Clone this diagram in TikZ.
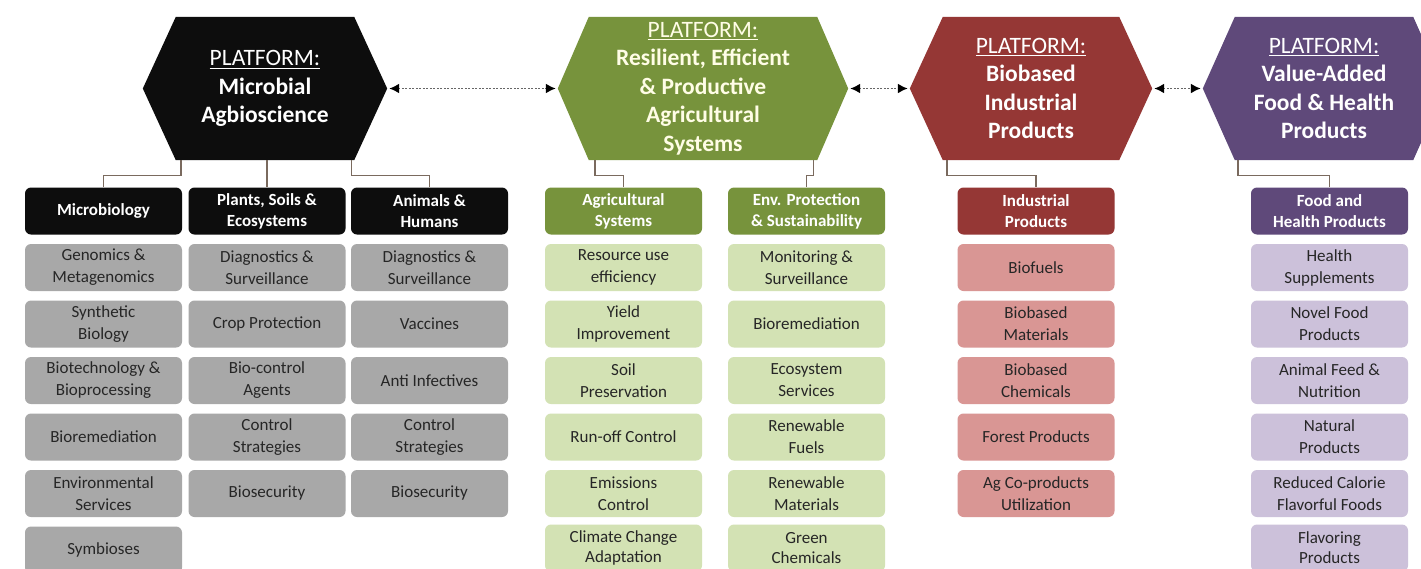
\documentclass[tikz,border=0pt]{standalone}
\usepackage{fontspec}
\setmainfont{Carlito}
\usetikzlibrary{arrows.meta,backgrounds}
\definecolor{blk}{HTML}{0D0D0D}
\definecolor{grn}{HTML}{77933C}
\definecolor{redd}{HTML}{953735}
\definecolor{pur}{HTML}{5F497A}
\definecolor{gryitem}{HTML}{A8A8A8}
\definecolor{grnitem}{HTML}{D3E2B4}
\definecolor{reditem}{HTML}{D99694}
\definecolor{puritem}{HTML}{CCC1DA}
\definecolor{connc}{HTML}{7A6A5E}
\definecolor{itemtxt}{HTML}{262626}
\definecolor{cream}{HTML}{FFFDE6}
\newcommand\platf{\setbox0\hbox{PLATFORM:}\rlap{\rule[-3.2pt]{\wd0}{1.1pt}}\box0}
\newcommand\hexfill[3]{\fill[#3] (#1.west) -- ([xshift=#2]#1.north west) -- ([xshift=-#2]#1.north east) -- (#1.east) -- ([xshift=-#2]#1.south east) -- ([xshift=#2]#1.south west) -- cycle;}
\tikzset{
 hex/.style={minimum width=#1, minimum height=143pt, inner sep=0pt, align=center, text=white, font=\fontsize{23.5}{28.5}\selectfont},
 cat/.style={rounded corners=6pt, minimum width=157pt, minimum height=47pt, inner sep=0pt, align=center, text=white, font=\fontsize{17}{21}\selectfont\bfseries, fill=#1},
 item/.style={rounded corners=6pt, minimum width=157pt, minimum height=47pt, inner sep=0pt, align=center, text=itemtxt, font=\fontsize{17}{22}\selectfont, fill=#1},
 lastitem/.style={item=#1, text height=11pt},
 conn/.style={draw=connc, line width=1.4pt},
 link/.style={draw=black!60, line width=1.8pt, dash pattern=on 2pt off 1.5pt, {Latex[length=10pt,width=10pt,black]}-{Latex[length=10pt,width=10pt,black]}, shorten <=2pt, shorten >=2pt}
}
\begin{document}
\begin{tikzpicture}[x=1pt,y=-1pt]
\useasboundingbox (0,0) rectangle (1421,568);
\clip (0,0) rectangle (1421,568);
% hexagons
\node[hex=244pt] (hA) at (265,88.5) {\platf\\\textbf{Microbial}\\\textbf{Agbioscience}};
\node[hex=290pt, text=cream] (hB) at (703,88.5) {\platf\\\textbf{Resilient, Efficient}\\\textbf{\& Productive}\\\textbf{Agricultural}\\\textbf{Systems}};
\node[hex=242pt] (hC) at (1031,88.5) {\platf\\\textbf{Biobased}\\\textbf{Industrial}\\\textbf{Products}};
\node[hex=242pt] (hD) at (1324,88.5) {\platf\\\textbf{Value-Added}\\\textbf{Food \& Health}\\\textbf{Products}};
\begin{scope}[on background layer]
\fill[white] (0,0) rectangle (1421,568);
\hexfill{hA}{33pt}{blk}
\hexfill{hB}{31pt}{grn}
\hexfill{hC}{33pt}{redd}
\hexfill{hD}{32pt}{pur}
\end{scope}
% links
\draw[link] (hA.east) -- (hB.west);
\draw[link] (hB.east) -- (hC.west);
\draw[link] (hC.east) -- (hD.west);
% categories
\node[cat=blk] (c1) at (103.5,211) {Microbiology};
\node[cat=blk] (c2) at (267,211) {Plants, Soils \&\\Ecosystems};
\node[cat=blk] (c3) at (429.5,211) {Animals \&\\Humans};
\node[cat=grn] (c4) at (623.5,211) {Agricultural\\Systems};
\node[cat=grn] (c5) at (806.5,211) {Env. Protection\\\& Sustainability};
\node[cat=redd] (c6) at (1036,211) {Industrial\\Products};
\node[cat=pur] (c7) at (1329.5,211) {Food and\\Health Products};
% connectors
\draw[conn] ([xshift=38pt]hA.south west) -- ++(0,15) -| (c1.north);
\draw[conn] ([xshift=2pt]hA.south) -- (c2.north);
\draw[conn] ([xshift=-36pt]hA.south east) -- ++(0,15) -| (c3.north);
\draw[conn] ([xshift=37pt]hB.south west) -- ++(0,15) -| (c4.north);
\draw[conn] ([xshift=-35pt]hB.south east) -- ++(0,15) -| (c5.north);
\draw[conn] ([xshift=37pt]hC.south west) -- ++(0,15) -| (c6.north);
\draw[conn] ([xshift=35pt]hD.south west) -- ++(0,15) -| (c7.north);
% column 1
\node[item=gryitem] (a1) at (103.5,267.5) {Genomics \&\\Metagenomics};
\node[item=gryitem] (a2) at (103.5,324) {Synthetic\\Biology};
\node[item=gryitem] (a3) at (103.5,380.5) {Biotechnology \&\\Bioprocessing};
\node[item=gryitem] (a4) at (103.5,437) {Bioremediation};
\node[item=gryitem] (a5) at (103.5,493.5) {Environmental\\Services};
\node[item=gryitem] (a6) at (103.5,550) {Symbioses};
% column 2
\node[item=gryitem] (b1) at (267,267.5) {Diagnostics \&\\Surveillance};
\node[item=gryitem] (b2) at (267,324) {Crop Protection};
\node[item=gryitem] (b3) at (267,380.5) {Bio-control\\Agents};
\node[item=gryitem] (b4) at (267,437) {Control\\Strategies};
\node[item=gryitem] (b5) at (267,493.5) {Biosecurity};
% column 3
\node[item=gryitem] (d1) at (429.5,267.5) {Diagnostics \&\\Surveillance};
\node[item=gryitem] (d2) at (429.5,324) {Vaccines};
\node[item=gryitem] (d3) at (429.5,380.5) {Anti Infectives};
\node[item=gryitem] (d4) at (429.5,437) {Control\\Strategies};
\node[item=gryitem] (d5) at (429.5,493.5) {Biosecurity};
% column 4
\node[item=grnitem] (e1) at (623.5,267.5) {Resource use\\efficiency};
\node[item=grnitem] (e2) at (623.5,324) {Yield\\Improvement};
\node[item=grnitem] (e3) at (623.5,380.5) {Soil\\Preservation};
\node[item=grnitem] (e4) at (623.5,437) {Run-off Control};
\node[item=grnitem] (e5) at (623.5,493.5) {Emissions\\Control};
\node[item=grnitem, font=\fontsize{17}{20}\selectfont] (e6) at (623.5,548) {Climate Change\\Adaptation};
% column 5
\node[item=grnitem] (f1) at (806.5,267.5) {Monitoring \&\\Surveillance};
\node[item=grnitem] (f2) at (806.5,324) {Bioremediation};
\node[item=grnitem] (f3) at (806.5,380.5) {Ecosystem\\Services};
\node[item=grnitem] (f4) at (806.5,437) {Renewable\\Fuels};
\node[item=grnitem] (f5) at (806.5,493.5) {Renewable\\Materials};
\node[item=grnitem, font=\fontsize{17}{20}\selectfont] (f6) at (806.5,548) {Green\\Chemicals};
% column 6
\node[item=reditem] (g1) at (1036,267.5) {Biofuels};
\node[item=reditem] (g2) at (1036,324) {Biobased\\Materials};
\node[item=reditem] (g3) at (1036,380.5) {Biobased\\Chemicals};
\node[item=reditem] (g4) at (1036,437) {Forest Products};
\node[item=reditem] (g5) at (1036,493.5) {Ag Co-products\\Utilization};
% column 7
\node[item=puritem] (k1) at (1329.5,267.5) {Health\\Supplements};
\node[item=puritem] (k2) at (1329.5,324) {Novel Food\\Products};
\node[item=puritem] (k3) at (1329.5,380.5) {Animal Feed \&\\Nutrition};
\node[item=puritem] (k4) at (1329.5,437) {Natural\\Products};
\node[item=puritem] (k5) at (1329.5,493.5) {Reduced Calorie\\Flavorful Foods};
\node[item=puritem, font=\fontsize{17}{20}\selectfont] (k6) at (1329.5,548) {Flavoring\\Products};
\end{tikzpicture}
\end{document}
